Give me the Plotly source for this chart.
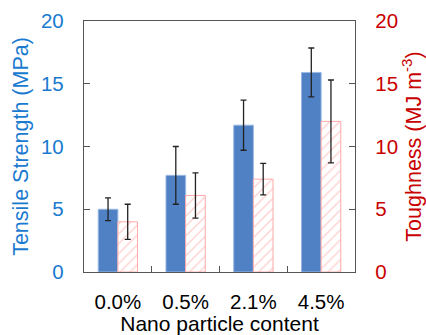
import plotly.graph_objects as go

categories = ["0.0%", "0.5%", "2.1%", "4.5%"]
tensile = [5.0, 7.7, 11.7, 15.9]
tensile_err = [0.9, 2.3, 2.0, 1.95]
toughness = [4.0, 6.1, 7.4, 12.0]
toughness_err = [1.4, 1.8, 1.25, 3.3]

FONT = "Liberation Sans, Arial, sans-serif"
BLUE_TXT = "#1a7ad0"
RED_TXT = "#c80000"
AX = "#555555"

fig = go.Figure()
fig.add_trace(go.Bar(
    x=categories, y=tensile, offsetgroup="a", yaxis="y",
    marker=dict(color="#4f81c4", line=dict(color="#9ab8e4", width=1)),
    error_y=dict(type="data", array=tensile_err, color="#222222", thickness=1.3, width=3),
    showlegend=False,
))
fig.add_trace(go.Bar(
    x=categories, y=toughness, offsetgroup="b", yaxis="y2",
    marker=dict(color="white", line=dict(color="#ffa8a8", width=1),
                pattern=dict(shape="/", fgcolor="#ff9c9c", bgcolor="white", size=7, solidity=0.18)),
    error_y=dict(type="data", array=toughness_err, color="#222222", thickness=1.3, width=3),
    showlegend=False,
))

fig.update_layout(
    width=426, height=335,
    margin=dict(l=84, r=71, t=21, b=63),
    paper_bgcolor="white", plot_bgcolor="white",
    barmode="group", bargap=0.42, bargroupgap=0,
    font=dict(family=FONT, size=20, color="black"),
    xaxis=dict(
        automargin=False,
        showline=True, linecolor=AX, linewidth=1.3, mirror=True,
        ticks="inside", tickson="boundaries", ticklen=6, tickcolor=AX,
        tickfont=dict(size=20.5, color="black"), ticklabelstandoff=11,
        title=dict(text="Nano particle content", font=dict(size=21, color="black"), standoff=7),
    ),
    yaxis=dict(
        automargin=False,
        range=[0, 20], tickvals=[0, 5, 10, 15, 20],
        showline=True, linecolor=AX, linewidth=1.3, showgrid=False, zeroline=False,
        ticks="inside", ticklen=6, tickcolor=AX,
        tickfont=dict(size=20.5, color=BLUE_TXT), ticklabelstandoff=15,
        title=dict(text="Tensile Strength (MPa)", font=dict(size=21.5, color=BLUE_TXT), standoff=6),
    ),
    yaxis2=dict(
        automargin=False,
        range=[0, 20], tickvals=[0, 5, 10, 15, 20], overlaying="y", side="right",
        showline=True, linecolor=AX, linewidth=1.3, showgrid=False, zeroline=False,
        ticks="inside", ticklen=6, tickcolor=AX,
        tickfont=dict(size=20.5, color=RED_TXT), ticklabelstandoff=15,
        title=dict(text="Toughness (MJ m<sup>-3</sup>)", font=dict(size=21.5, color=RED_TXT), standoff=6),
    ),
)

fig.write_html("out.html")
